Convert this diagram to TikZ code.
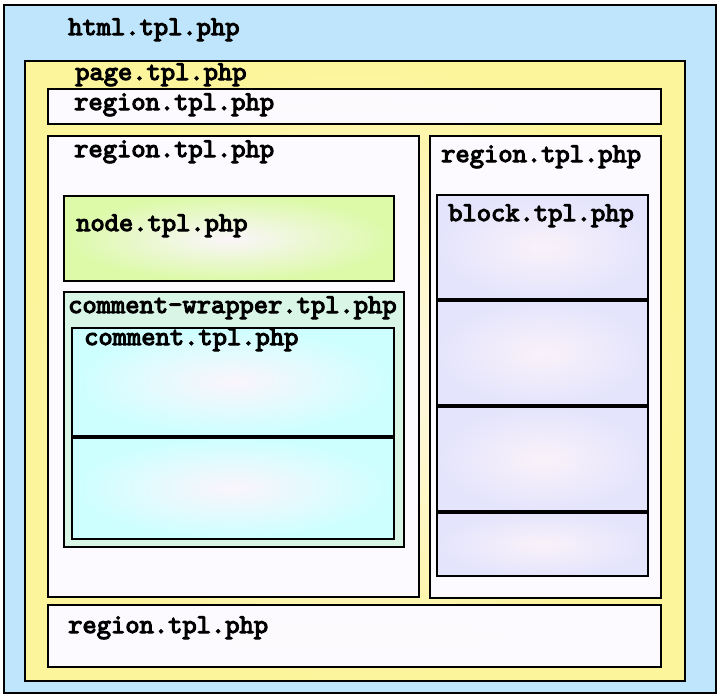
\documentclass[tikz,border=0pt]{standalone}
\usepackage{fontspec}
\newfontfamily\heavytt{lmmono10-regular.otf}[FakeBold=4]
\begin{document}
\begin{tikzpicture}[x=1pt,y=-1pt,
  lbl/.style={font=\heavytt\fontsize{27.2}{30}\selectfont, anchor=base west, inner sep=0pt, text=black},
  box/.style={draw=black, line width=2pt},
  outerc/.style={box, line width=2.4pt, fill={rgb,255:red,190;green,229;blue,251}},
  pagec/.style={box, shading=radial, inner color={rgb,255:red,255;green,248;blue,235}, outer color={rgb,255:red,253;green,245;blue,155}},
  regc/.style={box, shading=radial, inner color={rgb,255:red,253;green,250;blue,253}, outer color={rgb,255:red,252;green,250;blue,255}},
  nodec/.style={box, shading=radial, inner color={rgb,255:red,250;green,245;blue,250}, outer color={rgb,255:red,220;green,250;blue,168}},
  wrapc/.style={box, fill={rgb,255:red,216;green,245;blue,230}},
  commc/.style={box, shading=radial, inner color={rgb,255:red,250;green,245;blue,252}, outer color={rgb,255:red,205;green,255;blue,255}},
  blockc/.style={box, shading=radial, inner color={rgb,255:red,250;green,242;blue,250}, outer color={rgb,255:red,228;green,228;blue,252}}
]
\useasboundingbox (0,0) rectangle (722,699);
\fill[white] (0,0) rectangle (722,699);
% html
\draw[outerc] (4,5) rectangle (716,693);
% page
\draw[pagec] (25,61) rectangle (685,681);
% regions
\draw[regc] (48,89) rectangle (661,124);
\draw[regc] (48,136) rectangle (419,597);
\draw[regc] (430,136) rectangle (661,598);
\draw[regc] (48,605) rectangle (661,667);
% node
\draw[nodec] (64,196) rectangle (394,281);
% comment wrapper
\draw[wrapc] (64,292) rectangle (404,547);
\draw[commc] (72,328) rectangle (394,435.5);
\draw[commc] (72,437.5) rectangle (394,538.5);
% blocks
\draw[blockc] (437,195) rectangle (648,299);
\draw[blockc] (437,301) rectangle (648,405);
\draw[blockc] (437,407) rectangle (648,511);
\draw[blockc] (437,513) rectangle (648,576);
% labels
\node[lbl] (thtml) at (68,35) {html.tpl.php};
\node[lbl] (tpage) at (75,80) {page.tpl.php};
\node[lbl] (tregtop) at (74,110) {region.tpl.php};
\node[lbl] (tregleft) at (74,157) {region.tpl.php};
\node[lbl] (tregright) at (441,162) {region.tpl.php};
\node[lbl] (tblock) at (448,221) {block.tpl.php};
\node[lbl] (tnode) at (76,231) {node.tpl.php};
\node[lbl] (twrap) at (68,313) {comment-wrapper.tpl.php};
\node[lbl] (tcomm) at (84,345) {comment.tpl.php};
\node[lbl] (tregbot) at (68,633) {region.tpl.php};
\end{tikzpicture}
\end{document}
